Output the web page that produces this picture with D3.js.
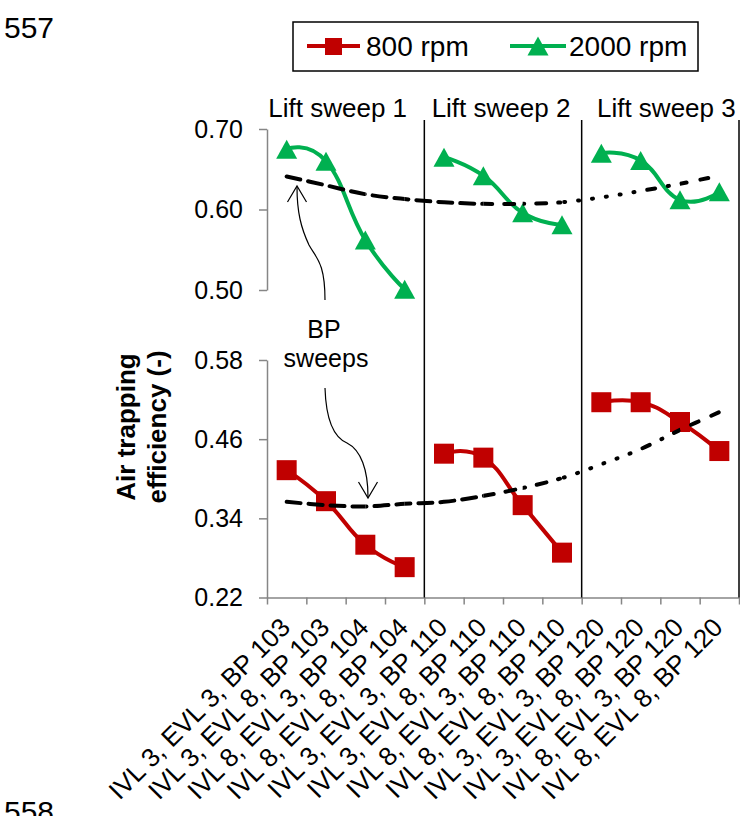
<!DOCTYPE html>
<html>
<head>
<meta charset="utf-8">
<script src="https://cdn.jsdelivr.net/npm/d3@7"></script>
<style>
  body { margin: 0; background: #fff; }
  svg { display: block; font-family: "Liberation Sans", Arial, sans-serif; }
</style>
</head>
<body>
<div id="rootDiv"></div>
<script>
const categories = [
    "IVL 3, EVL 3, BP 103", "IVL 3, EVL 8, BP 103", "IVL 8, EVL 3, BP 104", "IVL 8, EVL 8, BP 104",
    "IVL 3, EVL 3, BP 110", "IVL 3, EVL 8, BP 110", "IVL 8, EVL 3, BP 110", "IVL 8, EVL 8, BP 110",
    "IVL 3, EVL 3, BP 120", "IVL 3, EVL 8, BP 120", "IVL 8, EVL 3, BP 120", "IVL 8, EVL 8, BP 120"
]
const lifts = ["Lift sweep 1", "Lift sweep 2", "Lift sweep 3"]

// air trapping efficiency, 800 rpm (lower panel) and 2000 rpm (upper panel)
const rpm800 = [0.413, 0.366, 0.300, 0.266, 0.438, 0.432, 0.360, 0.288, 0.516, 0.516, 0.486, 0.442]
const rpm2000 = [0.675, 0.660, 0.562, 0.501, 0.665, 0.642, 0.596, 0.581, 0.670, 0.661, 0.612, 0.622]

// BP sweep guide curves
const bpUpper = [0.641, 0.630, 0.619, 0.613, 0.609, 0.607, 0.607, 0.609, 0.615, 0.623, 0.632, 0.642]
const bpLower = [0.365, 0.360, 0.358, 0.362, 0.365, 0.374, 0.386, 0.401, 0.422, 0.445, 0.474, 0.501]

const upperTicks = [0.50, 0.60, 0.70]
const lowerTicks = [0.22, 0.34, 0.46, 0.58]

const red = "#C00000"
const green = "#00B050"
const axisGray = "#868686"

const width = 740
const height = 816
const left = 267
const right = 739
const bottom = 597.5

const svg = d3.select(document.getElementById("rootDiv"))
    .append("svg")
    .attr("width", width)
    .attr("height", height)

const x = d3.scaleBand()
    .domain(d3.range(categories.length))
    .range([left, right])
const xc = i => x(i) + x.bandwidth() / 2
const xEdge = d3.scaleLinear()
    .domain([0, categories.length])
    .range([left, right])

const yUp = d3.scaleLinear().domain([0.5, 0.7]).range([290, 129])
const yLo = d3.scaleLinear().domain([0.22, 0.58]).range([bottom, 360])

// Axes
const yAxisUp = svg.append("g")
    .attr("transform", `translate(${left},0)`)
    .call(d3.axisLeft(yUp).tickValues(upperTicks).tickFormat(d3.format(".2f"))
        .tickSizeInner(8).tickSizeOuter(0).tickPadding(16))
const yAxisLo = svg.append("g")
    .attr("transform", `translate(${left},0)`)
    .call(d3.axisLeft(yLo).tickValues(lowerTicks).tickFormat(d3.format(".2f"))
        .tickSizeInner(8).tickSizeOuter(0).tickPadding(16))
const xAxis = svg.append("g")
    .attr("transform", `translate(0,${bottom})`)
    .call(d3.axisBottom(xEdge).tickValues(d3.range(categories.length + 1)).tickFormat("")
        .tickSizeInner(7).tickSizeOuter(0))

for (const axis of [yAxisUp, yAxisLo, xAxis]) {
    axis.attr("font-family", null).attr("font-size", null)
    axis.selectAll("line").style("stroke", axisGray).style("stroke-width", 1.5)
    axis.selectAll("path").style("stroke", axisGray).style("stroke-width", 1.5)
    axis.selectAll("text").style("fill", "#000").style("font-size", "25px")
}

// lift sweep separators
svg.selectAll("line.sep")
    .data([4, 8, 12])
    .enter()
    .append("line")
    .attr("class", "sep")
    .attr("x1", d => xEdge(d))
    .attr("x2", d => xEdge(d))
    .attr("y1", 120)
    .attr("y2", bottom)
    .attr("stroke", "#000")
    .attr("stroke-width", 1.5)

// lift titles
const titleShift = [-8, -2, 6]
svg.selectAll("text.lift")
    .data(lifts)
    .enter()
    .append("text")
    .attr("class", "lift")
    .attr("x", (_d, k) => (xEdge(4 * k) + xEdge(4 * k + 4)) / 2 + titleShift[k])
    .attr("y", 117)
    .attr("text-anchor", "middle")
    .style("font-size", "26px")
    .text(d => d)

// category labels
svg.selectAll("text.cat")
    .data(categories)
    .enter()
    .append("text")
    .attr("class", "cat")
    .attr("transform", (_d, i) => `translate(${xc(i) + 5},629) rotate(-45)`)
    .attr("text-anchor", "end")
    .style("font-size", "26px")
    .text(d => d)

// series lines, one smoothed piece per lift sweep
const groups = d3.range(lifts.length).map(k => d3.range(4 * k, 4 * k + 4))
const smooth = d3.curveCardinal.tension(-0.4)

const series = [
    { values: rpm800, y: yLo, color: red },
    { values: rpm2000, y: yUp, color: green }
]
for (const s of series) {
    const line = d3.line().x(i => xc(i)).y(i => s.y(s.values[i])).curve(smooth)
    svg.selectAll(null)
        .data(groups)
        .enter()
        .append("path")
        .attr("d", line)
        .attr("fill", "none")
        .attr("stroke", s.color)
        .attr("stroke-width", 4)
}

// markers
svg.selectAll("rect.m800")
    .data(rpm800)
    .enter()
    .append("rect")
    .attr("class", "m800")
    .attr("x", (_d, i) => xc(i) - 10)
    .attr("y", d => yLo(d) - 10)
    .attr("width", 20)
    .attr("height", 20)
    .attr("fill", red)

const tri = "M0,-9.5L10.5,9.5L-10.5,9.5Z"
svg.selectAll("path.m2000")
    .data(rpm2000)
    .enter()
    .append("path")
    .attr("class", "m2000")
    .attr("d", tri)
    .attr("transform", (d, i) => `translate(${xc(i)},${yUp(d)})`)
    .attr("fill", green)

// BP sweep curves, dash style changes per segment
const bpDash = ["14,8", "14,8", "14,8", "14,8", "14,8", "10,12", "10,12,2,12", "1,13", "1,13", "1,13,8,13", "8,14"]
const defs = svg.append("defs")
bpDash.forEach((_d, i) => {
    const x0 = i === 0 ? 0 : xc(i)
    const x1 = i === bpDash.length - 1 ? width : xc(i + 1)
    defs.append("clipPath")
        .attr("id", "seg" + i)
        .append("rect")
        .attr("x", x0)
        .attr("width", x1 - x0)
        .attr("y", 0)
        .attr("height", height)
})
const bpSmooth = d3.curveCardinal.tension(0)
for (const bp of [{ values: bpUpper, y: yUp }, { values: bpLower, y: yLo }]) {
    const line = d3.line().x((_d, i) => xc(i)).y(d => bp.y(d)).curve(bpSmooth)
    bpDash.forEach((dash, i) => {
        svg.append("path")
            .attr("d", line(bp.values))
            .attr("clip-path", `url(#seg${i})`)
            .attr("fill", "none")
            .attr("stroke", "#000")
            .attr("stroke-width", 4)
            .attr("stroke-linecap", "round")
            .attr("stroke-dasharray", dash)
    })
}

// BP sweeps annotation
svg.append("text").attr("x", 324).attr("y", 338).attr("text-anchor", "middle")
    .style("font-size", "25px").text("BP")
svg.append("text").attr("x", 326).attr("y", 367).attr("text-anchor", "middle")
    .style("font-size", "25px").text("sweeps")

const arrows = [
    { d: "M325,300C325,262 316,258 309,245C301,228 297,212 297,187", tip: [297, 186], dir: -1 },
    { d: "M325,388C326,420 333,437 347,443C361,450 368,470 368,497", tip: [368, 498], dir: 1 }
]
for (const a of arrows) {
    svg.append("path").attr("d", a.d)
        .attr("fill", "none").attr("stroke", "#000").attr("stroke-width", 1.2)
    const [tx, ty] = a.tip
    svg.append("path")
        .attr("d", `M${tx - 9.5},${ty - a.dir * 16}L${tx},${ty}L${tx + 9.5},${ty - a.dir * 16}`)
        .attr("fill", "none").attr("stroke", "#000").attr("stroke-width", 1.2)
}

// y title
svg.append("text")
    .attr("transform", "translate(135,427) rotate(-90)")
    .attr("text-anchor", "middle")
    .style("font-size", "26px").style("font-weight", "bold")
    .text("Air trapping")
svg.append("text")
    .attr("transform", "translate(166,427) rotate(-90)")
    .attr("text-anchor", "middle")
    .style("font-size", "26px").style("font-weight", "bold")
    .text("efficiency (-)")

// legend
const legend = svg.append("g")
legend.append("rect")
    .attr("x", 293).attr("y", 22).attr("width", 405).attr("height", 49)
    .attr("fill", "#fff").attr("stroke", "#000").attr("stroke-width", 1.5)
legend.append("line").attr("x1", 307).attr("x2", 360).attr("y1", 46).attr("y2", 46)
    .attr("stroke", red).attr("stroke-width", 4)
legend.append("rect").attr("x", 325).attr("y", 38).attr("width", 17).attr("height", 17).attr("fill", red)
legend.append("text").attr("x", 366).attr("y", 56).style("font-size", "28px").text("800 rpm")
legend.append("line").attr("x1", 510).attr("x2", 566).attr("y1", 46).attr("y2", 46)
    .attr("stroke", green).attr("stroke-width", 4)
legend.append("path").attr("d", tri).attr("transform", "translate(538,46)").attr("fill", green)
legend.append("text").attr("x", 569).attr("y", 56).style("font-size", "28px").text("2000 rpm")

// page line numbers
svg.append("text").attr("x", 4).attr("y", 38).style("font-size", "30px").text("557")
svg.append("text").attr("x", 4).attr("y", 822).style("font-size", "30px").text("558")
</script>
</body>
</html>
